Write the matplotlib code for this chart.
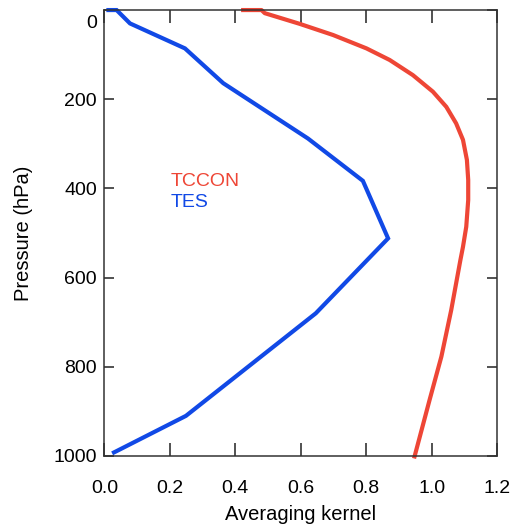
import matplotlib
matplotlib.use("Agg")
import matplotlib.pyplot as plt
from matplotlib.transforms import ScaledTranslation

plt.rcParams['font.family'] = ['Liberation Sans', 'DejaVu Sans']

# TES averaging kernel (piecewise linear)
tes_ak = [0.012, 0.037, 0.078, 0.246, 0.363, 0.622, 0.790, 0.867, 0.646, 0.249, 0.029]
tes_p = [0, 0, 30, 86, 164, 288, 383, 512, 680, 910, 992]

# TCCON averaging kernel (smooth)
tccon_ak = [0.424, 0.480, 0.490, 0.597, 0.699, 0.801, 0.872, 0.943, 1.004, 1.045,
            1.075, 1.096, 1.108, 1.112, 1.112, 1.106, 1.096, 1.088, 1.060, 1.030,
            0.994, 0.948]
tccon_p = [0, 0, 7, 31, 56, 86, 112, 146, 183, 217,
           254, 291, 336, 381, 426, 486, 531, 561, 673, 777,
           874, 1001]

xticks = [0.0, 0.2, 0.4, 0.6, 0.8, 1.0, 1.2]
yticks = [0, 200, 400, 600, 800, 1000]

red = '#EE4636'
blue = '#1149E6'

fig = plt.figure(figsize=(5.13, 5.29), dpi=100)
ax = fig.add_axes([0.2037, 0.138, 0.7651, 0.843])

ax.plot(tccon_ak, tccon_p, color=red, lw=3, solid_joinstyle='round', clip_on=False)
ax.plot(tes_ak, tes_p, color=blue, lw=3, solid_joinstyle='miter', clip_on=False)

ax.set_xlim(0, 1.2)
ax.set_ylim(1000, 0)
ax.set_xticks(xticks)
ax.set_xticklabels([f"{v:.1f}" for v in xticks])
ax.set_yticks(yticks)
ax.set_yticklabels([str(v) for v in yticks])

ax.tick_params(axis='x', direction='in', length=9.5, width=1.1, pad=17,
               labelsize=14, top=True, color='#222222')
ax.tick_params(axis='y', direction='in', length=7, width=1.1, pad=5.5,
               labelsize=14, right=True, color='#222222')
for s in ax.spines.values():
    s.set_linewidth(1.1)
    s.set_color('#333333')

# shift the "0" label down like the reference
lab0 = ax.yaxis.get_major_ticks()[0].label1
lab0.set_transform(lab0.get_transform() + ScaledTranslation(0, -11 / 100, fig.dpi_scale_trans))

ax.set_xlabel('Averaging kernel', fontsize=14.5)
ax.set_ylabel('Pressure (hPa)', fontsize=14.5)
ax.xaxis.set_label_coords(0.5, -0.132)
ax.xaxis.label.set_va('center')
ax.yaxis.set_label_coords(-0.2076, 0.5)
ax.yaxis.label.set_va('center')

ax.text(0.1687, 0.615, 'TCCON', color=red, fontsize=14, transform=ax.transAxes,
        ha='left', va='center')
ax.text(0.1687, 0.568, 'TES', color=blue, fontsize=14, transform=ax.transAxes,
        ha='left', va='center')

fig.savefig('out.png', dpi=100)
